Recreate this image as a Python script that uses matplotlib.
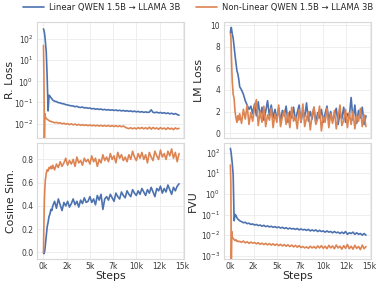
import matplotlib
matplotlib.use("Agg")
import matplotlib.pyplot as plt
import seaborn as sns
from matplotlib.ticker import FuncFormatter, LogLocator

# training steps (dense at the start, then every 200)
steps = [0, 50, 100, 150, 200, 300, 400, 500, 600, 700, 800, 900] + list(range(1000, 14601, 200))

labels = ["Linear QWEN 1.5B \u2192 LLAMA 3B", "Non-Linear QWEN 1.5B \u2192 LLAMA 3B"]

rloss_lin = [300, 260, 200, 140, 80, 25, 1.5, 0.04, 0.22, 0.2, 0.17, 0.15,
             0.13, 0.115, 0.11, 0.098, 0.096, 0.088, 0.086, 0.079, 0.077, 0.072,
             0.07, 0.068, 0.063, 0.066, 0.06, 0.058, 0.061, 0.055, 0.057, 0.053,
             0.055, 0.05, 0.052, 0.048, 0.05, 0.047, 0.049, 0.045, 0.047, 0.044,
             0.046, 0.043, 0.045, 0.042, 0.044, 0.041, 0.043, 0.04, 0.042, 0.039,
             0.041, 0.038, 0.04, 0.037, 0.039, 0.036, 0.038, 0.035, 0.037, 0.034,
             0.036, 0.034, 0.035, 0.045, 0.034, 0.033, 0.035, 0.032, 0.034, 0.031,
             0.033, 0.03, 0.032, 0.029, 0.031, 0.028, 0.03, 0.027, 0.025]
rloss_nl = [50, 2, 0.0015, 0.03, 0.02, 0.018, 0.016, 0.015, 0.014, 0.013, 0.013, 0.012,
            0.012, 0.011, 0.0115, 0.0105, 0.011, 0.0098, 0.0105, 0.0095, 0.01, 0.009,
            0.0098, 0.0088, 0.0095, 0.0085, 0.0092, 0.0083, 0.009, 0.0082, 0.0088, 0.008,
            0.0087, 0.0079, 0.0085, 0.0078, 0.0084, 0.0077, 0.0083, 0.0076, 0.0082, 0.0075,
            0.0082, 0.0074, 0.0081, 0.0073, 0.008, 0.0072, 0.0079, 0.0071, 0.0078, 0.0068,
            0.0062, 0.0058, 0.0064, 0.0057, 0.0063, 0.0056, 0.0065, 0.0058, 0.0066, 0.0057,
            0.0064, 0.0056, 0.0068, 0.0055, 0.0066, 0.0057, 0.0063, 0.0054, 0.0065, 0.0056,
            0.0062, 0.0053, 0.0064, 0.0055, 0.0061, 0.0052, 0.0063, 0.0056, 0.006]

lm_lin = [9.3, 9.7, 9.8, 9.5, 9.2, 8.8, 8.0, 7.2, 6.5, 5.8, 5.5, 5.0,
          4.3, 4.0, 3.6, 3.0, 2.6, 2.2, 2.5, 1.8, 2.7, 1.6,
          2.9, 1.5, 2.4, 1.2, 2.0, 3.0, 1.6, 2.6, 1.4, 2.2,
          1.3, 2.3, 1.1, 2.1, 1.6, 2.5, 1.0, 2.0, 1.4, 2.4,
          1.2, 1.9, 2.6, 1.0, 2.1, 1.5, 2.8, 1.1, 2.0, 1.3,
          2.4, 0.9, 1.9, 1.4, 2.2, 1.0, 1.8, 2.5, 1.2, 2.0,
          1.1, 1.7, 2.3, 0.8, 1.9, 1.3, 2.4, 1.0, 1.8, 1.5,
          3.3, 1.2, 2.6, 0.9, 2.1, 1.4, 2.4, 0.8, 1.6]
lm_nl = [9.2, 9.0, 7.5, 6.0, 4.8, 3.6, 3.2, 2.0, 1.4, 1.0, 1.6, 1.2,
         1.8, 0.9, 2.2, 1.3, 2.6, 0.8, 1.9, 1.1, 2.4, 3.1,
         0.7, 2.0, 1.0, 2.5, 0.6, 1.7, 1.2, 2.3, 0.5, 1.8,
         1.0, 2.6, 0.6, 1.5, 2.1, 0.8, 1.9, 0.5, 2.4, 1.1,
         1.6, 0.4, 2.2, 1.0, 2.7, 0.6, 1.4, 2.0, 0.3, 1.7,
         2.4, 0.8, 1.3, 2.5, 0.2, 1.6, 1.0, 2.3, 0.5, 1.8,
         0.9, 2.1, 0.4, 1.5, 2.6, 0.7, 1.2, 2.2, 0.5, 1.9,
         0.8, 2.0, 0.4, 1.6, 1.1, 2.3, 0.6, 1.7, 0.6]

cos_lin = [0.0, -0.01, 0.0, 0.02, 0.06, 0.14, 0.22, 0.26, 0.31, 0.33, 0.37, 0.36,
           0.40, 0.44, 0.38, 0.46, 0.41, 0.36, 0.43, 0.40, 0.44, 0.39,
           0.42, 0.46, 0.41, 0.44, 0.39, 0.45, 0.42, 0.47, 0.43, 0.44,
           0.48, 0.43, 0.46, 0.41, 0.49, 0.45, 0.50, 0.37, 0.46, 0.48,
           0.45, 0.50, 0.47, 0.44, 0.51, 0.48, 0.46, 0.52, 0.49, 0.47,
           0.53, 0.50, 0.48, 0.54, 0.51, 0.49, 0.53, 0.50, 0.55, 0.52,
           0.49, 0.54, 0.51, 0.56, 0.52, 0.48, 0.55, 0.53, 0.57, 0.51,
           0.55, 0.52, 0.58, 0.54, 0.50, 0.56, 0.53, 0.57, 0.59]
cos_nl = [0.0, 0.25, 0.45, 0.55, 0.62, 0.68, 0.71, 0.70, 0.73, 0.72, 0.74, 0.72,
          0.75, 0.71, 0.76, 0.73, 0.78, 0.74, 0.77, 0.81, 0.75, 0.79,
          0.76, 0.80, 0.74, 0.82, 0.77, 0.79, 0.75, 0.81, 0.78, 0.80,
          0.76, 0.83, 0.78, 0.81, 0.74, 0.80, 0.77, 0.84, 0.79, 0.82,
          0.78, 0.85, 0.80, 0.83, 0.77, 0.86, 0.81, 0.84, 0.79, 0.82,
          0.78, 0.84, 0.80, 0.87, 0.82, 0.79, 0.85, 0.81, 0.86, 0.80,
          0.84, 0.77, 0.86, 0.82, 0.79, 0.87, 0.83, 0.80, 0.88, 0.82,
          0.85, 0.80, 0.87, 0.83, 0.89, 0.81, 0.86, 0.78, 0.85]

fvu_lin = [160, 120, 80, 50, 30, 8, 0.05, 0.1, 0.09, 0.07, 0.06, 0.055,
           0.05, 0.045, 0.04, 0.042, 0.036, 0.038, 0.033, 0.035, 0.031, 0.033,
           0.029, 0.031, 0.027, 0.03, 0.026, 0.028, 0.025, 0.027, 0.024, 0.026,
           0.023, 0.025, 0.022, 0.024, 0.021, 0.023, 0.02, 0.022, 0.02, 0.021,
           0.019, 0.021, 0.018, 0.02, 0.018, 0.019, 0.017, 0.019, 0.016, 0.018,
           0.016, 0.018, 0.015, 0.017, 0.015, 0.016, 0.014, 0.016, 0.014, 0.015,
           0.013, 0.015, 0.013, 0.014, 0.012, 0.014, 0.012, 0.015, 0.011, 0.013,
           0.012, 0.014, 0.011, 0.013, 0.011, 0.012, 0.01, 0.012, 0.01]
fvu_nl = [25, 3, 0.0006, 0.015, 0.008, 0.007, 0.006, 0.0055, 0.006, 0.005, 0.0052, 0.0048,
          0.005, 0.0045, 0.0052, 0.0042, 0.0048, 0.004, 0.0046, 0.0041, 0.0044, 0.0038,
          0.0043, 0.0036, 0.0041, 0.0035, 0.004, 0.0034, 0.0039, 0.0033, 0.0038, 0.0032,
          0.0037, 0.0031, 0.0036, 0.003, 0.0035, 0.0029, 0.0034, 0.0028, 0.0033, 0.0027,
          0.0032, 0.0026, 0.0031, 0.0025, 0.0028, 0.0024, 0.0027, 0.0023, 0.0029, 0.0024,
          0.0028, 0.0023, 0.003, 0.0024, 0.0031, 0.0023, 0.0029, 0.0022, 0.0032, 0.0024,
          0.003, 0.0022, 0.0033, 0.0024, 0.0029, 0.0021, 0.0031, 0.0023, 0.0035, 0.0022,
          0.0029, 0.0021, 0.0032, 0.0023, 0.0028, 0.002, 0.0033, 0.0022, 0.0028]

sns.set_theme(style="whitegrid")
plt.rcParams["font.family"] = ["DejaVu Sans"]

blue, orange = sns.color_palette("deep")[0], sns.color_palette("deep")[1]

fig, axes = plt.subplots(2, 2, figsize=(3.81, 2.87), dpi=100, sharex=True)
fig.subplots_adjust(left=0.097, right=0.974, top=0.923, bottom=0.098, wspace=0.27, hspace=0.035)

# axis, linear series, non-linear series, y label, log y?, y limits, label x (axes fraction)
panels = [
    (axes[0, 0], rloss_lin, rloss_nl, "R. Loss", True, (10 ** -2.7, 10 ** 2.8), -0.15),
    (axes[0, 1], lm_lin, lm_nl, "LM Loss", False, (-0.5, 10.3), -0.135),
    (axes[1, 0], cos_lin, cos_nl, "Cosine Sim.", False, (-0.055, 0.945), -0.14),
    (axes[1, 1], fvu_lin, fvu_nl, "FVU", True, (10 ** -3.15, 10 ** 2.49), -0.18),
]

for ax, lin, nl, ylabel, logy, ylim, lx in panels:
    ax.plot(steps, lin, color=blue, lw=1.2, label=labels[0])
    ax.plot(steps, nl, color=orange, lw=1.2, label=labels[1])
    if logy:
        ax.set_yscale("log")
        ax.yaxis.set_major_locator(LogLocator(base=10, numticks=10))
    ax.set_ylim(*ylim)
    ax.set_ylabel(ylabel, fontsize=7.8)
    ax.yaxis.set_label_coords(lx, 0.5)
    ax.tick_params(which="both", length=0, labelsize=5.5, pad=2.6, colors="#3a3a3a")
    ax.grid(True, color="#ebebeb", lw=0.6)
    for s in ax.spines.values():
        s.set_color("#d9d9d9")
        s.set_linewidth(0.8)

axes[1, 0].set_xticks(range(0, 15001, 2500))
axes[1, 0].xaxis.set_major_formatter(FuncFormatter(lambda x, p: f"{int(x / 1000)}k"))
axes[1, 0].set_xlim(-700, 15150)
for ax in axes[1]:
    ax.set_xlabel("Steps", fontsize=7.8)
    ax.xaxis.set_label_coords(0.5, -0.105)

handles, leg_labels = axes[0, 0].get_legend_handles_labels()
fig.legend(handles, leg_labels, loc="upper center", bbox_to_anchor=(0.52, 1.015), ncol=2,
           frameon=False, fontsize=6, handlelength=2.6, columnspacing=1.8, handletextpad=0.6)

fig.savefig("out.png", dpi=100)
